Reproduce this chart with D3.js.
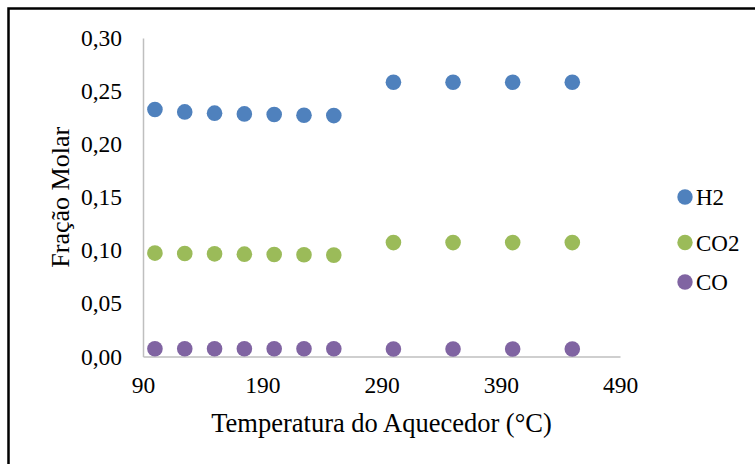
<!DOCTYPE html>
<html>
<head>
<meta charset="utf-8">
<script src="https://cdn.jsdelivr.net/npm/d3@7"></script>
<style>
  body { margin: 0; background: #fff; }
  svg text { font-family: "Liberation Serif", "Times New Roman", serif; fill: #000; }
</style>
</head>
<body>
<div id="chart"></div>
<script>
// Data
const temps = [100, 125, 150, 175, 200, 225, 250, 300, 350, 400, 450];
const h2 = [0.2326, 0.2304, 0.2292, 0.2285, 0.2279, 0.2273, 0.2269, 0.2583, 0.2583, 0.2583, 0.2583];
const co2 = [0.0974, 0.0970, 0.0967, 0.0964, 0.0961, 0.0958, 0.0955, 0.1073, 0.1073, 0.1073, 0.1073];
const co = [0.0073, 0.0073, 0.0073, 0.0073, 0.0073, 0.0073, 0.0073, 0.0070, 0.0070, 0.0070, 0.0070];
const seriesNames = ["H2", "CO2", "CO"];
const seriesColors = ["#4f81bd", "#9bbb59", "#8064a2"];
const xTicks = [90, 190, 290, 390, 490];
const yTicks = [0, 0.05, 0.10, 0.15, 0.20, 0.25, 0.30];

const width = 755;
const height = 464;

const svg = d3.select("#chart")
              .append("svg")
              .attr("width", width)
              .attr("height", height);

// outer frame (only top and left edges show)
svg.append("rect")
   .attr("x", 8.5)
   .attr("y", 8.5)
   .attr("width", width + 20)
   .attr("height", height + 20)
   .attr("fill", "none")
   .attr("stroke", "#000")
   .attr("stroke-width", 2.5);

const margin = { left: 143, right: 620, top: 38, bottom: 356.5 };

const x = d3.scaleLinear().domain([90, 490]).range([margin.left, margin.right]);
const y = d3.scaleLinear().domain([0, 0.30]).range([margin.bottom, margin.top]);

const fmt = d => d3.format(".2f")(d).replace(".", ",");

// axes
const xAxis = svg.append("g")
                 .attr("transform", `translate(0,${margin.bottom})`)
                 .call(d3.axisBottom(x).tickValues(xTicks).tickSize(0).tickPadding(20));
const yAxis = svg.append("g")
                 .attr("transform", `translate(${margin.left},0)`)
                 .call(d3.axisLeft(y).tickValues(yTicks).tickFormat(fmt).tickSize(0).tickPadding(21));

[xAxis, yAxis].forEach(a => {
    a.attr("font-family", null);
    a.select(".domain").attr("stroke", "#bfbfbf").attr("stroke-width", 1.5);
    a.selectAll("text")
     .style("font-family", "'Liberation Serif', serif")
     .style("font-size", "23.5px");
});

// axis titles
svg.append("text")
   .attr("x", (margin.left + margin.right) / 2)
   .attr("y", 432)
   .attr("text-anchor", "middle")
   .style("font-size", "26.5px")
   .text("Temperatura do Aquecedor (°C)");

svg.append("text")
   .attr("transform", `translate(69,${(margin.top + margin.bottom) / 2}) rotate(-90)`)
   .attr("text-anchor", "middle")
   .style("font-size", "26px")
   .text("Fração Molar");

// points
const series = [h2, co2, co];
series.forEach((vals, i) => {
    svg.append("g")
       .selectAll("circle")
       .data(vals)
       .enter().append("circle")
       .attr("cx", (d, j) => x(temps[j]))
       .attr("cy", d => y(d))
       .attr("r", 7.8)
       .attr("fill", seriesColors[i]);
});

// legend
const legendY = [197, 242.5, 282];
const legend = svg.selectAll(".legend")
                  .data(seriesNames)
                  .enter().append("g")
                  .attr("class", "legend")
                  .attr("transform", (d, i) => `translate(685,${legendY[i]})`);
legend.append("circle")
      .attr("r", 7.7)
      .attr("fill", (d, i) => seriesColors[i]);
legend.append("text")
      .attr("x", 11)
      .attr("dy", "0.35em")
      .style("font-size", "23px")
      .text(d => d);
</script>
</body>
</html>
